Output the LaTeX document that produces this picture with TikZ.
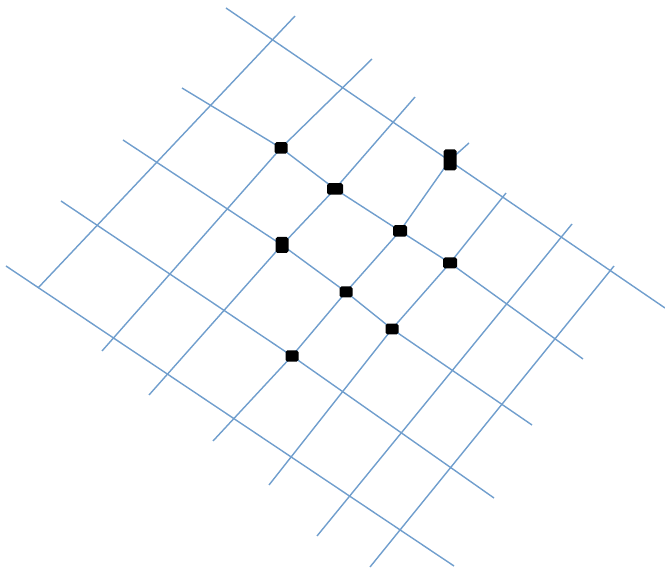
\documentclass[tikz,border=0pt]{standalone}
\definecolor{gridBlue}{RGB}{112,158,205}
\usepackage{tikz}
\tikzset{
  gridline/.style={gridBlue, line width=0.8pt},
  hit/.style={fill=black, rounded corners=1pt, inner sep=0pt, minimum width=0.26cm, minimum height=0.23cm}
}

\begin{document}
\begin{tikzpicture}[x=0.02cm, y=-0.02cm]
  \useasboundingbox (0,0) rectangle (665,570);
  % Marked crossings
  \coordinate (c22) at (281,148);
  \coordinate (c32) at (335,189);
  \coordinate (c41) at (450,160);
  \coordinate (c42) at (400,231);
  \coordinate (c33) at (282,245);
  \coordinate (c52) at (450,263);
  \coordinate (c43) at (346,292);
  \coordinate (c53) at (392,329);
  \coordinate (c44) at (292,356);
  % Descending lines
  \draw[gridline] (226,8) -- (665,308);
  \draw[gridline] (182,88) -- (c22) -- (c32) -- (c42) -- (c52) -- (583,359);
  \draw[gridline] (123,140) -- (c33) -- (c43) -- (c53) -- (532,425);
  \draw[gridline] (61,201) -- (c44) -- (494,498);
  \draw[gridline] (6,266) -- (454,566);
  % Ascending lines
  \draw[gridline] (38,288) -- (295,16);
  \draw[gridline] (102,351) -- (c22) -- (372,59);
  \draw[gridline] (149,395) -- (c33) -- (c32) -- (415,97);
  \draw[gridline] (213,441) -- (c44) -- (c43) -- (c42) -- (c41) -- (469,143);
  \draw[gridline] (269,485) -- (c53) -- (c52) -- (506,193);
  \draw[gridline] (317,536) -- (572,224);
  \draw[gridline] (370,567) -- (614,266);
  % Markers
  \node[hit] (m22) at (c22) {};
  \node[hit, minimum width=0.32cm] (m32) at (c32) {};
  \node[hit, minimum height=0.42cm] (m41) at (c41) {};
  \node[hit, minimum width=0.28cm] (m42) at (c42) {};
  \node[hit, minimum height=0.32cm] (m33) at (c33) {};
  \node[hit, minimum width=0.28cm, minimum height=0.22cm] (m52) at (c52) {};
  \node[hit, minimum height=0.22cm] (m43) at (c43) {};
  \node[hit, minimum height=0.22cm] (m53) at (c53) {};
  \node[hit] (m44) at (c44) {};
\end{tikzpicture}
\end{document}
